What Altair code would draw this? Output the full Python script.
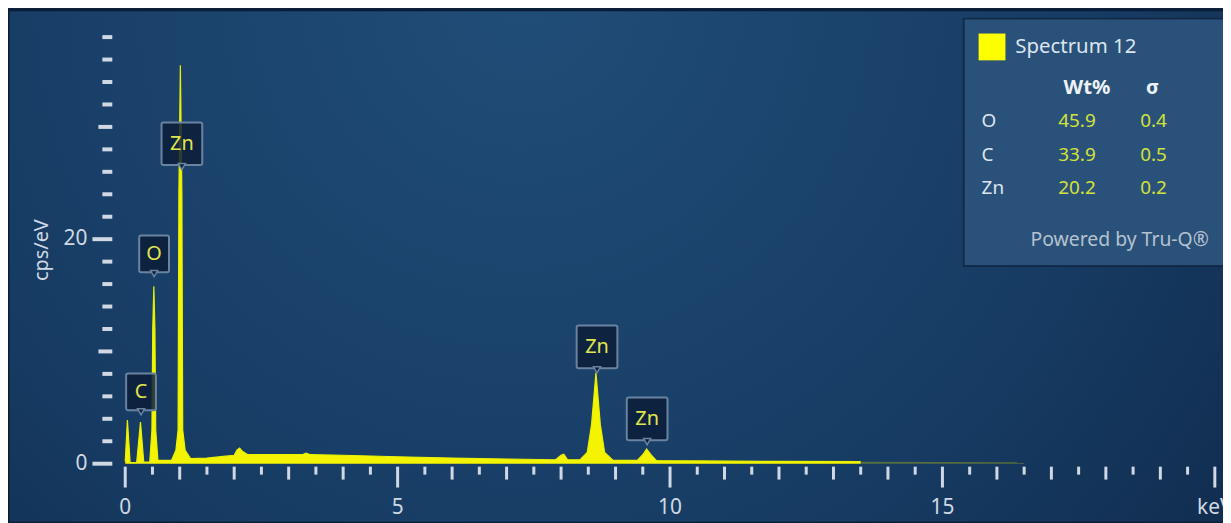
import altair as alt
import pandas as pd

# ---------------- data ----------------
kev = [0.0, 0.04, 0.09, 0.21, 0.28, 0.34, 0.45, 0.49, 0.505, 0.525, 0.545, 0.56, 0.6,
       0.85, 0.93, 0.97, 0.985, 1.012, 1.04, 1.055, 1.1, 1.2, 1.5, 1.8, 2.0, 2.05, 2.1,
       2.15, 2.25, 2.8, 3.25, 3.32, 3.4, 4.0, 5.0, 6.0, 7.0, 7.9, 8.0, 8.05, 8.12, 8.35,
       8.48, 8.56, 8.64, 8.72, 8.8, 8.95, 9.4, 9.5, 9.57, 9.65, 9.75, 10.5, 12.0, 13.5]
cps = [0.2, 3.9, 0.1, 0.1, 3.7, 0.15, 0.15, 3.0, 12.0, 15.8, 12.0, 3.0, 0.3,
       0.3, 1.2, 3.0, 24.0, 35.5, 24.0, 3.0, 1.2, 0.45, 0.5, 0.65, 0.75, 1.2, 1.4,
       1.1, 0.8, 0.8, 0.8, 0.95, 0.8, 0.75, 0.62, 0.5, 0.42, 0.35, 0.75, 0.85, 0.35, 0.35,
       1.0, 3.5, 8.1, 3.5, 1.0, 0.32, 0.3, 0.8, 1.3, 0.8, 0.28, 0.25, 0.2, 0.18]
tail_kev = [13.5, 15.0, 16.5]
tail_cps = [0.18, 0.15, 0.12]

peak_elem = ["C", "O", "Zn", "Zn", "Zn"]
peak_kev = [0.29, 0.53, 1.04, 8.66, 9.58]
peak_cps = [6.4, 18.7, 28.5, 10.4, 4.0]

quant_elem = ["O", "C", "Zn"]
quant_wt = ["45.9", "33.9", "20.2"]
quant_sigma = ["0.4", "0.5", "0.2"]
spectrum_name = "Spectrum 12"

x_ticks = [i / 2 for i in range(41)]
x_label_pos = [0, 5, 10, 15, 20]
x_label_txt = ["0", "5", "10", "15", "keV"]
y_ticks = list(range(0, 40, 2))
y_label_pos = [0, 20]
y_label_txt = ["0", "20"]

# ---------------- layout ----------------
W, H = 1105, 452
FONT = "Noto Sans"
AXC = "#d0d9e3"
XMAX = 20.15
YMAX = 40

spec_df = pd.DataFrame({"kev": kev, "cps": cps})
tail_df = pd.DataFrame({"kev": tail_kev, "cps": tail_cps})
lab_df = pd.DataFrame({"elem": peak_elem, "kev": peak_kev, "cps": peak_cps})
xt_df = pd.DataFrame({"kev": x_ticks})
yt_df = pd.DataFrame({"cps": y_ticks})
xl_df = pd.DataFrame({"kev": x_label_pos, "txt": x_label_txt})
yl_df = pd.DataFrame({"cps": y_label_pos, "txt": y_label_txt})
one = pd.DataFrame({"a": [0]})

xs = alt.Scale(domain=[0, XMAX], nice=False, zero=False)
ys = alt.Scale(domain=[0, YMAX], nice=False)
X = alt.X("kev:Q", scale=xs, axis=None)
Y = alt.Y("cps:Q", scale=ys, axis=None)

bg = alt.Chart(one).mark_rect(
    color=alt.RadialGradient(
        gradient="radial",
        stops=[alt.GradientStop(color="#204d78", offset=0),
               alt.GradientStop(color="#173c64", offset=0.55),
               alt.GradientStop(color="#0e2646", offset=1)],
        x1=0.42, y1=0.28, x2=0.42, y2=0.28, r1=0, r2=0.85),
    stroke="#0b1d36", strokeWidth=3
).encode(x=alt.value(-118), x2=alt.value(W + 10), y=alt.value(-5), y2=alt.value(H + 60))

area = alt.Chart(spec_df).mark_area(
    color="#f4f400", opacity=1, line={"color": "#eaf200", "strokeWidth": 1.2}
).encode(x=X, y=Y)

tail = alt.Chart(tail_df).mark_area(color="#c8d000", opacity=0.35).encode(x=X, y=Y)

# ---- axis ticks (rules through the scales) ----
def xtick(test, length):
    return alt.Chart(xt_df).transform_filter(test).mark_rule(
        strokeWidth=3, color=AXC, strokeCap="butt"
    ).encode(x=X, y=alt.value(H + 3), y2=alt.value(H + 3 + length))

xt_long = xtick("datum.kev % 5 === 0", 21)
xt_mid = xtick("datum.kev % 5 !== 0 && datum.kev % 1 === 0", 13)
xt_short = xtick("datum.kev % 1 !== 0", 8)

def ytick(test, length):
    return alt.Chart(yt_df).transform_filter(test).mark_rule(
        strokeWidth=4, color=AXC, strokeCap="butt"
    ).encode(y=Y, x=alt.value(-13 - length), x2=alt.value(-13))

yt_long = ytick("datum.cps % 20 === 0", 20)
yt_mid = ytick("datum.cps % 20 !== 0 && datum.cps % 10 === 0", 14)
yt_short = ytick("datum.cps % 10 !== 0", 10)

x_labels = alt.Chart(xl_df).mark_text(
    font=FONT, fontSize=21, color=AXC, align="center", baseline="middle"
).encode(x=X, y=alt.value(H + 45), text="txt:N")

y_labels = alt.Chart(yl_df).mark_text(
    font=FONT, fontSize=21, color=AXC, align="right", baseline="middle"
).encode(y=Y, x=alt.value(-38), text="txt:N")

y_title = alt.Chart(one).mark_text(
    font=FONT, fontSize=20, color=AXC, angle=270, align="center", baseline="middle"
).encode(x=alt.value(-84), y=alt.value(237), text=alt.value("cps/eV"))

# ---- peak labels ----
box_style = dict(fill="#0c1d38", fillOpacity=0.85, stroke="#6a83a0", strokeWidth=2,
                 cornerRadius=2)

def box_layer(test, w, h):
    return alt.Chart(lab_df).transform_filter(test).mark_rect(
        width=w, height=h, **box_style).encode(x=X, y=Y)

boxes_short = box_layer("length(datum.elem) === 1", 30, 37)
boxes_long = box_layer("length(datum.elem) > 1", 41, 43)

def ptr_layer(test, off):
    return alt.Chart(lab_df).transform_filter(test).mark_point(
        shape="triangle-down", filled=True, fill="#0c1d38", stroke="#6a83a0",
        strokeWidth=1.5, size=50, yOffset=off, opacity=1).encode(x=X, y=Y)

ptr_short = ptr_layer("length(datum.elem) === 1", 20)
ptr_long = ptr_layer("length(datum.elem) > 1", 23)

lab_text = alt.Chart(lab_df).mark_text(
    font=FONT, fontSize=20, color="#e2e64e", baseline="middle", align="center"
).encode(x=X, y=Y, text="elem:N")

# ---- legend panel ----
legend_box = alt.Chart(one).mark_rect(fill="#2a5179", stroke="#0f2440", strokeWidth=2,
                                      strokeOpacity=0.8).encode(
    x=alt.value(844), x2=alt.value(W + 20), y=alt.value(4), y2=alt.value(253))
swatch = alt.Chart(one).mark_rect(fill="#ffff00").encode(
    x=alt.value(859), x2=alt.value(886), y=alt.value(19), y2=alt.value(46))

def txt(x, y, s, color, size=16, align="center", weight="normal"):
    return alt.Chart(one).mark_text(
        font=FONT, fontSize=size, color=color, align=align, baseline="middle",
        fontWeight=weight).encode(x=alt.value(x), y=alt.value(y), text=alt.value(s))

legend_layers = [legend_box, swatch,
                 txt(896, 33, spectrum_name, "#dde6ef", 20.5, "left"),
                 txt(968, 74, "Wt%", "#eef3f8", 20.5, "center", "bold"),
                 txt(1034, 74, "σ", "#eef3f8", 20, "center", "bold")]
for i in range(len(quant_elem)):
    yy = 107 + 34 * i
    legend_layers += [txt(862, yy, quant_elem[i], "#dde6ef", 19, "left"),
                      txt(958, yy, quant_wt[i], "#d3e23a", 19),
                      txt(1035, yy, quant_sigma[i], "#d3e23a", 19)]
legend_layers.append(txt(1001, 227, "Powered by Tru-Q®", "#b4c2d0", 19.5))

chart = alt.layer(
    bg, area, tail,
    boxes_short, boxes_long, ptr_short, ptr_long, lab_text,
    x_labels, y_labels, y_title,
    xt_long, xt_mid, xt_short, yt_long, yt_mid, yt_short,
    *legend_layers
).properties(
    width=W, height=H,
    autosize=alt.AutoSizeParams(type="none"),
    padding={"left": 118, "top": 5, "right": 0, "bottom": 58},
    background="#14365c",
).configure_view(stroke=None)

chart.save("out.html", embed_options={"renderer": "svg", "actions": False})
